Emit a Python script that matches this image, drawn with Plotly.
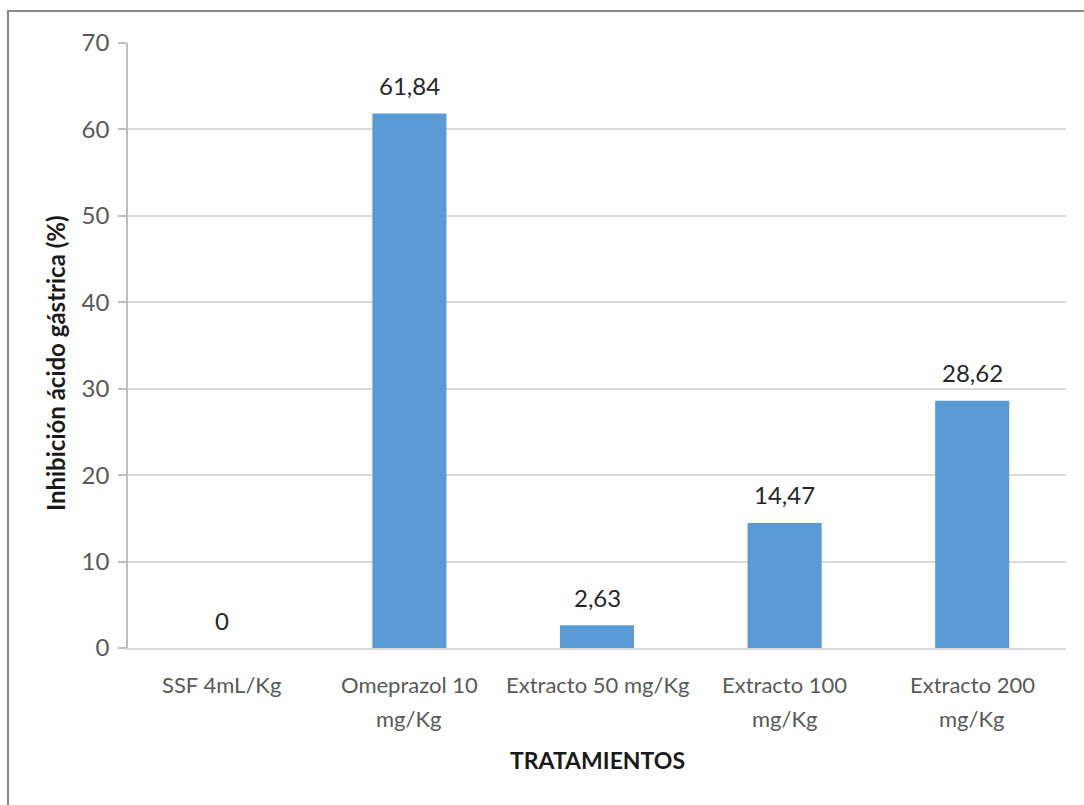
import plotly.graph_objects as go

# Treatment groups (label lines) and gastric acid inhibition (%)
categorias = ["SSF 4mL/Kg", "Omeprazol 10 mg/Kg", "Extracto 50 mg/Kg",
              "Extracto 100 mg/Kg", "Extracto 200 mg/Kg"]
etiquetas_linea1 = ["SSF 4mL/Kg", "Omeprazol 10", "Extracto 50 mg/Kg",
                    "Extracto 100", "Extracto 200"]
etiquetas_linea2 = ["", "mg/Kg", "", "mg/Kg", "mg/Kg"]
inhibicion = [0, 61.84, 2.63, 14.47, 28.62]
y_ticks = [0, 10, 20, 30, 40, 50, 60, 70]

FONT = "Lato"
W, H = 1084, 805
L, R, T, B = 128, 18, 43, 157
pw, ph = W - L - R, H - T - B

fig = go.Figure(go.Bar(
    x=categorias, y=inhibicion,
    marker=dict(color="#5B9BD5", line=dict(width=0)),
    width=0.395,
    hoverinfo="skip",
))

ann = []
# value labels above the bars (decimal comma)
for c, v in zip(categorias, inhibicion):
    txt = f"{v:.2f}".replace(".", ",") if v != int(v) else str(int(v))
    ann.append(dict(x=c, y=v, xref="x", yref="y", text=txt, showarrow=False,
                    yanchor="middle", yshift=28,
                    font=dict(family=FONT, size=24, color="#262626")))
# category labels on two lines
for c, l1, l2 in zip(categorias, etiquetas_linea1, etiquetas_linea2):
    ann.append(dict(x=c, y=0, xref="x", yref="paper", text=l1, showarrow=False,
                    yanchor="middle", yshift=-36,
                    font=dict(family=FONT, size=22, color="#595959")))
    if l2:
        ann.append(dict(x=c, y=0, xref="x", yref="paper", text=l2, showarrow=False,
                        yanchor="middle", yshift=-70,
                        font=dict(family=FONT, size=22, color="#595959")))
# axis titles
ann.append(dict(x=(597 - L) / pw, y=(648 - 760) / ph, xref="paper", yref="paper",
                text="<b>TRATAMIENTOS</b>", showarrow=False,
                xanchor="center", yanchor="middle",
                font=dict(family=FONT, size=23, color="#1a1a1a")))
ann.append(dict(x=(55 - L) / pw, y=(648 - 363) / ph, xref="paper", yref="paper",
                text="<b>Inhibición ácido gástrica (%)</b>", showarrow=False,
                textangle=-90, xanchor="center", yanchor="middle",
                font=dict(family=FONT, size=24, color="#1a1a1a")))

fig.update_layout(
    width=W, height=H,
    margin=dict(l=L, r=R, t=T, b=B),
    paper_bgcolor="white", plot_bgcolor="white",
    showlegend=False,
    annotations=ann,
    bargap=0.6,
    shapes=[dict(type="rect", xref="paper", yref="paper",
                 x0=(8 - L) / pw, x1=1.2, y0=-0.5, y1=(648 - 11) / ph,
                 line=dict(color="#8a8a8a", width=2), layer="below")],
)
fig.update_xaxes(
    showticklabels=False, ticks="", showgrid=False,
    showline=True, linecolor="#d9d9d9", linewidth=2,
    range=[-0.5, 4.5],
)
fig.update_yaxes(
    range=[0, 70], tickvals=y_ticks,
    showgrid=True, gridcolor="#d9d9d9", gridwidth=2,
    showline=True, linecolor="#bfbfbf", linewidth=1.5,
    ticks="outside", ticklen=8, tickcolor="#bfbfbf", tickwidth=1.5,
    ticklabelstandoff=4,
    tickfont=dict(family=FONT, size=24, color="#595959"),
    zeroline=False,
)

fig.write_html("out.html")
